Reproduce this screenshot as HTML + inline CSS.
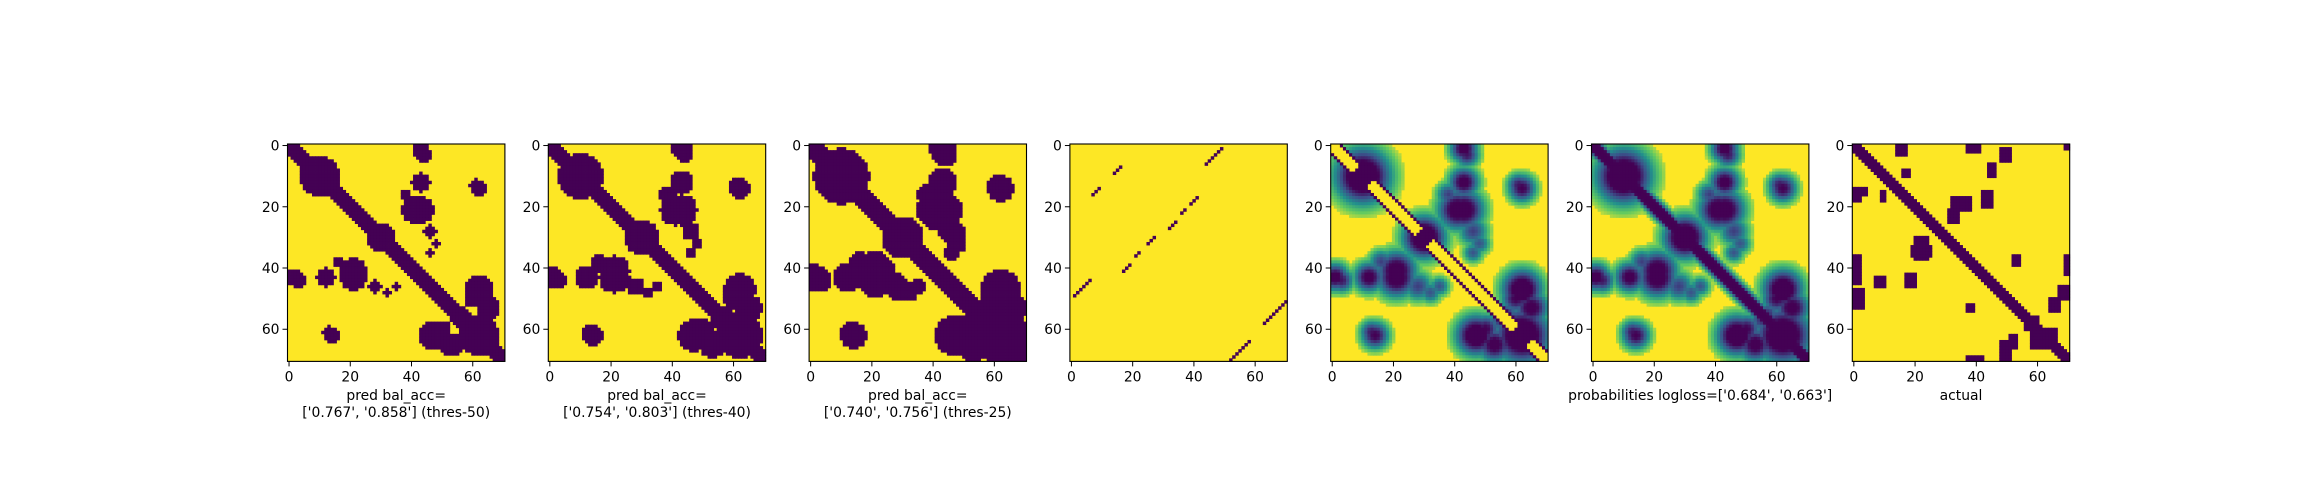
<!DOCTYPE html>
<html><head><meta charset="utf-8">
<style>
html,body{margin:0;padding:0;background:#fff;}
svg{display:block;font-family:"DejaVu Sans","Liberation Sans",sans-serif;}
</style></head>
<body>
<svg id="fig" width="2300" height="500" viewBox="0 0 2300 500" xmlns="http://www.w3.org/2000/svg"></svg>
<script>
// ---- data ----
const N = 71;
const tickValues = [0, 20, 40, 60];
const tickLabels = ['0', '20', '40', '60'];
// contact blobs: [row, col, radius, strength] (mirrored symmetric)
const blobRows = [10, 30, 62, 43, 12, 21, 14, 41, 43, 32, 62, 65, 61, 46, 38, 28, 3, 55, 50];
const blobCols = [10, 30, 62, 1, 43, 43, 62, 21, 12, 48, 47, 53, 13, 35, 16, 46, 44, 57, 60];
const blobRadii = [5.5, 4.2, 5.5, 2.8, 3, 4, 2.8, 4, 2.6, 2.2, 4, 3.5, 2.4, 2, 2.5, 3, 2.5, 2.5, 3];
const blobStrength = [1.0, 1.0, 1.0, 0.85, 0.85, 0.9, 0.8, 0.9, 0.75, 0.6, 0.95, 0.85, 0.75, 0.6, 0.65, 0.65, 0.75, 0.7, 0.8];
const diagWidth = 2.8;
const thresholds = [0.5, 0.4, 0.25];
const probSpread = 1.3;
// panel 4 segments: [rowStart, colStart, length] running up-right (row-1, col+1)
const segRows = [49, 16, 9, 41, 36, 32, 27, 22, 19, 6, 70, 58];
const segCols = [1, 7, 14, 17, 21, 25, 32, 36, 39, 44, 52, 63];
const segLens = [6, 3, 3, 3, 2, 3, 3, 2, 3, 6, 7, 8];
// actual panel patches: [r0, c0, r1, c1]
const actualPatches = [
 [0,14,3,17],[0,37,2,41],[1,48,5,51],[0,69,1,70],[6,44,10,46],[8,16,10,18],
 [14,0,16,4],[16,0,18,2],[15,9,18,10],[17,32,21,38],[21,31,25,34],[15,42,20,45],[30,20,37,24],[33,19,36,25],[42,17,46,20],
 [43,7,46,10],[36,0,45,2],[47,0,53,3],[36,52,39,54],[36,69,42,70],[50,64,54,67],[46,67,50,70],
 [52,37,54,39],[64,48,70,51],[62,51,66,53],[69,37,70,42],[60,58,66,66],[56,56,60,60]
];
const captions = [
 ['pred bal_acc=', "['0.767', '0.858'] (thres-50)"],
 ['pred bal_acc=', "['0.754', '0.803'] (thres-40)"],
 ['pred bal_acc=', "['0.740', '0.756'] (thres-25)"],
 [],
 [],
 ["probabilities logloss=['0.684', '0.663']"],
 ['actual']
];

// ---- layout ----
const svg = document.getElementById('fig');
const NS = 'http://www.w3.org/2000/svg';
const P0 = 287.5, PSTEP = 260.8, PTOP = 144, PSIZE = 217.4;
const cell = PSIZE / N;
function xs(p, c) { return P0 + p * PSTEP + c * cell; }
function ys(r) { return PTOP + r * cell; }

function viridis(t) {
  const stops = [[68,1,84],[59,82,139],[33,145,140],[94,201,98],[253,231,37]];
  t = Math.max(0, Math.min(1, t));
  const s = t * (stops.length - 1), i = Math.min(stops.length - 2, Math.floor(s)), f = s - i;
  const a = stops[i], b = stops[i + 1];
  return 'rgb(' + a.map((v, k) => Math.round(v + (b[k] - v) * f)).join(',') + ')';
}
function blobField(i, j, spread) {
  let v = 0;
  for (let k = 0; k < blobRows.length; k++) {
    const pairs = [[blobRows[k], blobCols[k]], [blobCols[k], blobRows[k]]];
    for (const [r, c] of pairs) {
      const d2 = (i - r) ** 2 + (j - c) ** 2;
      v = Math.max(v, blobStrength[k] * Math.exp(-d2 / (2 * (blobRadii[k] * spread) ** 2)));
    }
  }
  return v;
}
function field(i, j, mode, spread) {
  let v = blobField(i, j, spread);
  const d = Math.abs(i - j);
  if (mode === 'diag') v = Math.max(v, Math.exp(-d * d / (2 * diagWidth * diagWidth)));
  if (mode === 'stripes') { if (d === 3) v = 1; else if (d < 3 && v < 0.9) v = 0; }
  return v;
}
const DARK = viridis(0), YEL = viridis(1);

function panelGroup(p) {
  const g = document.createElementNS(NS, 'g');
  
  
  svg.appendChild(g);
  const bg = document.createElementNS(NS, 'rect');
  bg.setAttribute('x', xs(p, 0)); bg.setAttribute('y', PTOP);
  bg.setAttribute('width', PSIZE); bg.setAttribute('height', PSIZE);
  bg.setAttribute('fill', YEL);
  
  
  g.appendChild(bg);
  return g;
}
function addCell(g, p, i, j, color) {
  const r = document.createElementNS(NS, 'rect');
  r.setAttribute('x', xs(p, j).toFixed(2)); r.setAttribute('y', ys(i).toFixed(2));
  r.setAttribute('width', (cell + 0.4).toFixed(2)); r.setAttribute('height', (cell + 0.4).toFixed(2));
  r.setAttribute('fill', color);
  
  
  g.appendChild(r);
}

for (let p = 0; p < 3; p++) {
  const g = panelGroup(p);
  for (let i = 0; i < N; i++) for (let j = 0; j < N; j++)
    if (field(i, j, 'diag', 1) > thresholds[p]) addCell(g, p, i, j, DARK);
}
{
  const g = panelGroup(3);
  for (let s = 0; s < segRows.length; s++)
    for (let k = 0; k < segLens[s]; k++) addCell(g, 3, segRows[s] - k, segCols[s] + k, DARK);
}
[[4, 'stripes'], [5, 'diag']].forEach(([p, mode]) => {
  const g = panelGroup(p);
  for (let i = 0; i < N; i++) for (let j = 0; j < N; j++) {
    const v = field(i, j, mode, probSpread);
    if (v > 0.15) addCell(g, p, i, j, viridis(1.1 - v * 1.4));
  }
});
{
  const g = panelGroup(6);
  for (let i = 0; i < N; i++) for (let j = 0; j < N; j++) {
    let on = Math.abs(i - j) <= 2;
    for (const [r0, c0, r1, c1] of actualPatches) if (i >= r0 && i <= r1 && j >= c0 && j <= c1) on = true;
    if (on) addCell(g, 6, i, j, DARK);
  }
}

for (let p = 0; p < 7; p++) {
  const x0 = xs(p, 0), y1 = PTOP + PSIZE;
  const fr = document.createElementNS(NS, 'rect');
  fr.setAttribute('x', x0); fr.setAttribute('y', PTOP);
  fr.setAttribute('width', PSIZE); fr.setAttribute('height', PSIZE);
  fr.setAttribute('fill', 'none'); fr.setAttribute('stroke', '#000'); fr.setAttribute('stroke-width', '1.1');
  
  
  svg.appendChild(fr);
  tickValues.forEach((v, k) => {
    const tx = xs(p, v + 0.5), ty = ys(v + 0.5);
    const l1 = document.createElementNS(NS, 'line');
    l1.setAttribute('x1', tx); l1.setAttribute('x2', tx); l1.setAttribute('y1', y1); l1.setAttribute('y2', y1 + 5);
    l1.setAttribute('stroke', '#000');
    
    
    svg.appendChild(l1);
    const t1 = document.createElementNS(NS, 'text');
    t1.setAttribute('x', tx); t1.setAttribute('y', y1 + 20); t1.setAttribute('font-size', '13.9');
    t1.setAttribute('text-anchor', 'middle'); t1.textContent = tickLabels[k];
    
    
    svg.appendChild(t1);
    const l2 = document.createElementNS(NS, 'line');
    l2.setAttribute('x1', x0 - 5); l2.setAttribute('x2', x0); l2.setAttribute('y1', ty); l2.setAttribute('y2', ty);
    l2.setAttribute('stroke', '#000');
    
    
    svg.appendChild(l2);
    const t2 = document.createElementNS(NS, 'text');
    t2.setAttribute('x', x0 - 8); t2.setAttribute('y', ty + 5); t2.setAttribute('font-size', '13.9');
    t2.setAttribute('text-anchor', 'end'); t2.textContent = tickLabels[k];
    
    
    svg.appendChild(t2);
  });
  captions[p].forEach((line, k) => {
    const t = document.createElementNS(NS, 'text');
    t.setAttribute('x', x0 + PSIZE / 2); t.setAttribute('y', 400 + k * 17);
    t.setAttribute('font-size', '13.9'); t.setAttribute('text-anchor', 'middle');
    t.textContent = line;
    
    
    svg.appendChild(t);
  });
}
</script>
</body></html>
